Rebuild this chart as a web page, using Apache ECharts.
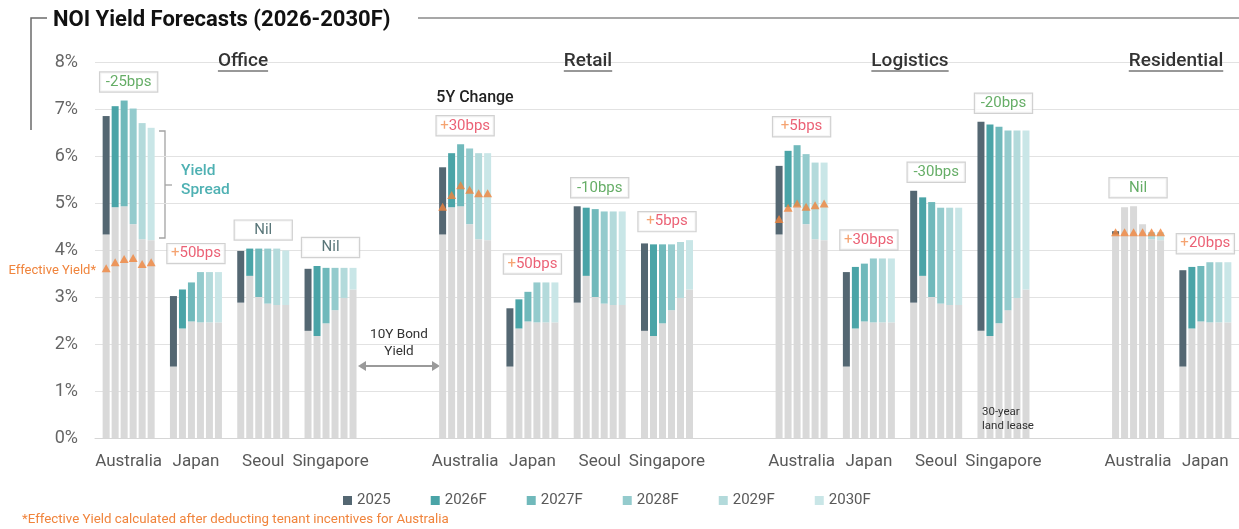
<!DOCTYPE html>
<html>
<head>
<meta charset="utf-8">
<title>NOI Yield Forecasts (2026-2030F)</title>
<script src="https://cdn.jsdelivr.net/npm/echarts@6/dist/echarts.min.js"></script>
<style>
  html, body { margin: 0; padding: 0; background: #ffffff; }
  #chart { width: 1239px; height: 529px; }
</style>
</head>
<body>
<div id="chart"></div>
<script>
// ---- Data (yields in %) ----
const years = ['2025', '2026F', '2027F', '2028F', '2029F', '2030F'];
const sectors = ['Office', 'Retail', 'Logistics', 'Residential'];
const marketsFull = ['Australia', 'Japan', 'Seoul', 'Singapore'];
const marketsResidential = ['Australia', 'Japan'];

// 10Y government bond yields by market
const bondAustralia = [4.33, 4.91, 4.93, 4.55, 4.23, 4.21];
const bondJapan = [1.52, 2.33, 2.48, 2.46, 2.46, 2.46];
const bondSeoul = [2.88, 3.45, 3.00, 2.86, 2.83, 2.83];
const bondSingapore = [2.28, 2.17, 2.44, 2.72, 2.98, 3.16];

// NOI yields by sector and market
const officeAustralia = [6.85, 7.06, 7.18, 7.01, 6.70, 6.60];
const officeJapan = [3.02, 3.16, 3.31, 3.53, 3.53, 3.53];
const officeSeoul = [3.98, 4.03, 4.03, 4.03, 4.03, 3.99];
const officeSingapore = [3.60, 3.66, 3.62, 3.62, 3.62, 3.62];
const retailAustralia = [5.76, 6.06, 6.25, 6.16, 6.06, 6.06];
const retailJapan = [2.76, 2.95, 3.11, 3.31, 3.31, 3.31];
const retailSeoul = [4.93, 4.90, 4.87, 4.82, 4.82, 4.82];
const retailSingapore = [4.14, 4.12, 4.12, 4.12, 4.17, 4.21];
const logisticsAustralia = [5.79, 6.11, 6.23, 6.04, 5.86, 5.86];
const logisticsJapan = [3.53, 3.64, 3.71, 3.82, 3.82, 3.82];
const logisticsSeoul = [5.26, 5.12, 5.02, 4.90, 4.90, 4.90];
const logisticsSingapore = [6.73, 6.67, 6.62, 6.54, 6.54, 6.54];
const residentialAustralia = [4.40, 4.40, 4.40, 4.40, 4.38, 4.38];
const residentialJapan = [3.57, 3.64, 3.66, 3.74, 3.74, 3.74];

// Effective yields (after tenant incentives), Australia only
const effectiveOffice = [3.61, 3.74, 3.81, 3.83, 3.70, 3.74];
const effectiveRetail = [4.92, 5.17, 5.38, 5.28, 5.21, 5.21];
const effectiveLogistics = [4.66, 4.90, 4.99, 4.92, 4.95, 4.99];
const effectiveResidential = [4.38, 4.38, 4.38, 4.38, 4.38, 4.38];

// 5-year change in NOI yield (2025 -> 2030F)
const changeOffice = ['-25bps', '+50bps', 'Nil', 'Nil'];
const changeRetail = ['+30bps', '+50bps', '-10bps', '+5bps'];
const changeLogistics = ['+5bps', '+30bps', '-30bps', '-20bps'];
const changeResidential = ['Nil', '+20bps'];

// ---- Lookups built from the arrays above ----
const bondByMarket = { Australia: bondAustralia, Japan: bondJapan, Seoul: bondSeoul, Singapore: bondSingapore };
const noiByKey = {
  'Office|Australia': officeAustralia, 'Office|Japan': officeJapan,
  'Office|Seoul': officeSeoul, 'Office|Singapore': officeSingapore,
  'Retail|Australia': retailAustralia, 'Retail|Japan': retailJapan,
  'Retail|Seoul': retailSeoul, 'Retail|Singapore': retailSingapore,
  'Logistics|Australia': logisticsAustralia, 'Logistics|Japan': logisticsJapan,
  'Logistics|Seoul': logisticsSeoul, 'Logistics|Singapore': logisticsSingapore,
  'Residential|Australia': residentialAustralia, 'Residential|Japan': residentialJapan
};
const effectiveByKey = {
  'Office|Australia': effectiveOffice, 'Retail|Australia': effectiveRetail,
  'Logistics|Australia': effectiveLogistics, 'Residential|Australia': effectiveResidential
};
const changeBySector = { Office: changeOffice, Retail: changeRetail, Logistics: changeLogistics, Residential: changeResidential };

// Category list: markets per sector, with an empty slot between sectors
const categories = [];
sectors.forEach((s, si) => {
  const mk = s === 'Residential' ? marketsResidential : marketsFull;
  mk.forEach(m => categories.push(s + '|' + m));
  if (si < sectors.length - 1) categories.push('gap' + si);
});

// ---- Styling ----
const FONT = 'Roboto, "Noto Sans", sans-serif';
const yearColors = ['#546772', '#4aa4a7', '#70b9bb', '#94cbcd', '#b3dadb', '#c9e6e7'];
const bondColor = '#d9d9d9';
const orange = '#f0843c';
const BAR_W = 7, BAR_GAP = 2;

const marketOf = key => key.split('|')[1];

const series = [];
years.forEach((yr, i) => {
  // bond-yield base
  series.push({
    name: 'Bond ' + yr, type: 'bar', stack: 's' + i,
    barWidth: BAR_W, barGap: (BAR_GAP / BAR_W * 100) + '%',
    itemStyle: { color: bondColor }, silent: true,
    data: categories.map(c => noiByKey[c] ? bondByMarket[marketOf(c)][i] : '-')
  });
  // yield spread on top of the bond yield
  series.push({
    name: yr, type: 'bar', stack: 's' + i,
    barWidth: BAR_W, barGap: (BAR_GAP / BAR_W * 100) + '%',
    itemStyle: { color: yearColors[i] }, silent: true,
    data: categories.map(c => {
      if (!noiByKey[c]) return '-';
      const v = noiByKey[c][i] - bondByMarket[marketOf(c)][i];
      return v > 0 ? +v.toFixed(2) : 0;
    })
  });
});

// effective-yield markers, one series per year, shifted onto each bar
years.forEach((yr, i) => {
  series.push({
    name: 'Effective ' + yr, type: 'scatter', symbol: 'triangle',
    symbolSize: [9, 8], symbolOffset: [(i - 2.5) * (BAR_W + BAR_GAP), 0],
    itemStyle: { color: orange }, z: 5, silent: true,
    data: categories.map(c => effectiveByKey[c] ? effectiveByKey[c][i] : '-')
  });
});

// 5Y change boxes above each market group
const changeData = [];
categories.forEach((c, idx) => {
  if (!noiByKey[c]) return;
  const [sector, market] = c.split('|');
  const mk = sector === 'Residential' ? marketsResidential : marketsFull;
  const text = changeBySector[sector][mk.indexOf(market)];
  const top = Math.max(...noiByKey[c], ...bondByMarket[market]);
  changeData.push({ value: [idx, top], text: text, sector: sector });
});
const txt = (color) => ({ color: color, fontSize: 15, fontFamily: FONT, lineHeight: 17 });
series.push({
  name: '5Y Change', type: 'scatter', symbolSize: 0, z: 6, silent: true,
  itemStyle: { color: 'transparent' },
  label: {
    show: true, position: 'top', distance: 9,
    width: 47, align: 'center',
    backgroundColor: '#ffffff', borderColor: '#c6c6c6', borderWidth: 1.2,
    padding: [1, 5, 1, 5],
    formatter: p => {
      const t = p.data.text;
      if (t === 'Nil') return p.data.sector === 'Residential' ? '{grn|Nil}' : '{nil|Nil}';
      if (t[0] === '+') return '{plus|+}{red|' + t.slice(1) + '}';
      return '{grn|' + t + '}';
    },
    rich: { plus: txt('#f28c4e'), red: txt('#e63a52'), grn: txt('#3f9940'), nil: txt('#2f5458') }
  },
  data: changeData
});

// ---- Annotation graphics ----
function textWidth(str, font) {
  const ctx = document.createElement('canvas').getContext('2d');
  ctx.font = font;
  return ctx.measureText(str).width;
}
const sectorTitles = [
  { text: 'Office', x: 243 }, { text: 'Retail', x: 588 },
  { text: 'Logistics', x: 910 }, { text: 'Residential', x: 1176 }
];
const sectorFont = '500 19px Roboto';
const graphics = [
  // frame around the title
  { type: 'polyline', shape: { points: [[47, 18], [31, 18], [31, 130]] }, style: { stroke: '#6b6b6b', lineWidth: 1.5, fill: null } },
  { type: 'line', shape: { x1: 418, y1: 18, x2: 1239, y2: 18 }, style: { stroke: '#8a8a8a', lineWidth: 1.5 } },
  { type: 'text', x: 53, y: 20, style: { text: 'NOI Yield Forecasts (2026-2030F)', font: 'bold 22px Roboto', fill: '#111', textVerticalAlign: 'middle' } },
  // 5Y Change caption
  { type: 'text', x: 475, y: 98, style: { text: '5Y Change', font: '500 16px Roboto', fill: '#222', textAlign: 'center', textVerticalAlign: 'middle' } },
  // yield spread bracket
  { type: 'polyline', shape: { points: [[159, 131], [165, 131], [165, 238], [159, 238]] }, style: { stroke: '#a3a3a3', lineWidth: 1.3, fill: null } },
  { type: 'line', shape: { x1: 165, y1: 185, x2: 172, y2: 185 }, style: { stroke: '#a3a3a3', lineWidth: 1.3 } },
  { type: 'text', x: 181, y: 171, style: { text: 'Yield', font: '500 15.5px Roboto', fill: '#4fb1b3', textVerticalAlign: 'middle' } },
  { type: 'text', x: 181, y: 190, style: { text: 'Spread', font: '500 15.5px Roboto', fill: '#4fb1b3', textVerticalAlign: 'middle' } },
  // effective yield note
  { type: 'text', x: 96, y: 271, style: { text: 'Effective Yield*', font: '13px Roboto', fill: orange, textAlign: 'right', textVerticalAlign: 'middle' } },
  // 10Y bond yield arrow
  { type: 'text', x: 399, y: 335, style: { text: '10Y Bond', font: '13.5px Roboto', fill: '#333', textAlign: 'center', textVerticalAlign: 'middle' } },
  { type: 'text', x: 399, y: 352, style: { text: 'Yield', font: '13.5px Roboto', fill: '#333', textAlign: 'center', textVerticalAlign: 'middle' } },
  { type: 'line', shape: { x1: 364, y1: 366, x2: 434, y2: 366 }, style: { stroke: '#9a9a9a', lineWidth: 2 } },
  { type: 'polygon', shape: { points: [[358, 366], [366, 361], [366, 371]] }, style: { fill: '#9a9a9a' } },
  { type: 'polygon', shape: { points: [[440, 366], [432, 361], [432, 371]] }, style: { fill: '#9a9a9a' } },
  // land lease note
  { type: 'text', x: 982, y: 412, z: 10, style: { text: '30-year', font: '11.5px Roboto', fill: '#333', textVerticalAlign: 'middle' } },
  { type: 'text', x: 982, y: 426, z: 10, style: { text: 'land lease', font: '11.5px Roboto', fill: '#333', textVerticalAlign: 'middle' } },
  // footnote
  { type: 'text', x: 22, y: 520, style: { text: '*Effective Yield calculated after deducting tenant incentives for Australia', font: '13.3px Roboto', fill: orange, textVerticalAlign: 'middle' } }
];
sectorTitles.forEach(s => {
  const w = textWidth(s.text, sectorFont);
  graphics.push({ type: 'text', x: s.x, y: 61, z: 10, style: { text: s.text, font: sectorFont, fill: '#333', textAlign: 'center', textVerticalAlign: 'middle' } });
  graphics.push({ type: 'line', z: 10, shape: { x1: s.x - w / 2, y1: 71, x2: s.x + w / 2, y2: 71 }, style: { stroke: '#333', lineWidth: 1.2 } });
});

const option = {
  animation: false,
  backgroundColor: '#ffffff',
  textStyle: { fontFamily: FONT },
  grid: { left: 95, top: 62, width: 1148, height: 376, containLabel: false },
  legend: {
    data: years, left: 338, top: 488, icon: 'rect', itemWidth: 9, itemHeight: 9,
    itemGap: 40, selectedMode: false,
    textStyle: { fontSize: 15, color: '#595959', fontFamily: FONT }
  },
  xAxis: {
    type: 'category', data: categories,
    axisTick: { show: false },
    axisLine: { lineStyle: { color: '#d6d6d6' } },
    axisLabel: {
      interval: 0, margin: 15, fontSize: 17, color: '#595959', fontFamily: FONT,
      formatter: v => v.indexOf('|') >= 0 ? v.split('|')[1] : ''
    }
  },
  yAxis: {
    type: 'value', min: 0, max: 8, interval: 1,
    axisLine: { show: false }, axisTick: { show: false },
    axisLabel: { formatter: '{value}%', fontSize: 18, color: '#666', margin: 17, fontFamily: FONT },
    splitLine: { lineStyle: { color: '#e2e2e2', width: 1 } }
  },
  graphic: graphics,
  series: series
};

const chart = echarts.init(document.getElementById('chart'), null, { renderer: 'canvas' });
chart.setOption(option);
</script>
</body>
</html>
